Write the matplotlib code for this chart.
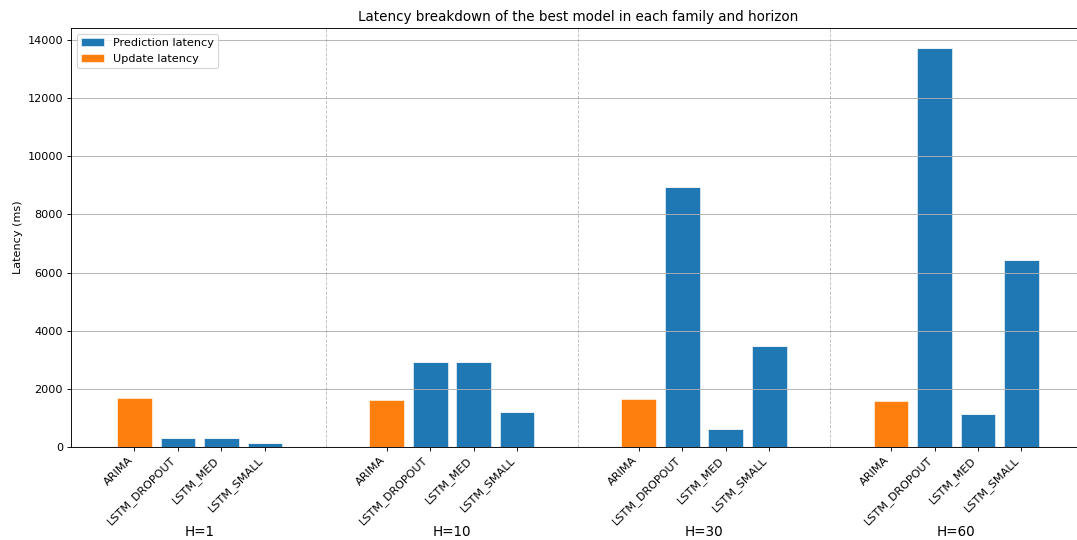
import numpy as np
import matplotlib
matplotlib.use("Agg")
import matplotlib.pyplot as plt

horizons = ["H=1", "H=10", "H=30", "H=60"]
models = ["ARIMA", "LSTM_DROPOUT", "LSTM_MED", "LSTM_SMALL"]

# Per-horizon latencies in ms, ordered as in `models`
prediction_latency = [
    [3, 310, 305, 130],
    [3, 2940, 2925, 1200],
    [3, 8930, 610, 3475],
    [3, 13725, 1150, 6430],
]
update_latency = [
    [1680, 0, 0, 0],
    [1630, 0, 0, 0],
    [1640, 0, 0, 0],
    [1580, 0, 0, 0],
]

group_step = 5.8
bar_width = 0.8

DPI = 81
fig = plt.figure(figsize=(1077 / DPI, 540 / DPI), dpi=DPI)
ax = fig.add_axes([0.0659, 0.1722, 0.9415, 0.7759])

positions, labels = [], []
pred_vals, upd_vals = [], []
for g, h in enumerate(horizons):
    for i, m in enumerate(models):
        positions.append(g * group_step + i)
        labels.append(m)
        pred_vals.append(prediction_latency[g][i])
        upd_vals.append(update_latency[g][i])

positions = np.array(positions)
pred_vals = np.array(pred_vals, dtype=float)
upd_vals = np.array(upd_vals, dtype=float)

ax.bar(positions, pred_vals, width=bar_width, color="#1f77b4",
       edgecolor="white", linewidth=0.5, label="Prediction latency")
ax.bar(positions, upd_vals, width=bar_width, bottom=pred_vals, color="#ff7f0e",
       edgecolor="white", linewidth=0.5, label="Update latency")

ax.set_xticks(positions)
ax.set_xticklabels(labels, rotation=45, ha="right")

# separators between horizon groups
for g in range(1, len(horizons)):
    sep = g * group_step - (group_step - len(models) + 1) / 2
    ax.axvline(sep, color="grey", linestyle="--", linewidth=0.8, alpha=0.5)

# horizon labels under each group
for g, h in enumerate(horizons):
    center = g * group_step + (len(models) - 1) / 2
    ax.text(center, -0.203, h, transform=ax.get_xaxis_transform(),
            ha="center", va="center", fontsize=12)

totals = pred_vals + upd_vals
ax.set_ylim(0, totals.max() * 1.05)
span = positions.max() - positions.min() + bar_width
ax.set_xlim(positions.min() - bar_width / 2 - 0.05 * span,
            positions.max() + bar_width / 2 + 0.05 * span)

ax.axhline(0, color="grey", linewidth=1)
ax.grid(axis="y")
ax.set_ylabel("Latency (ms)")
ax.set_title("Latency breakdown of the best model in each family and horizon")
ax.legend(loc="upper left")

fig.savefig("out.png", dpi=DPI)
